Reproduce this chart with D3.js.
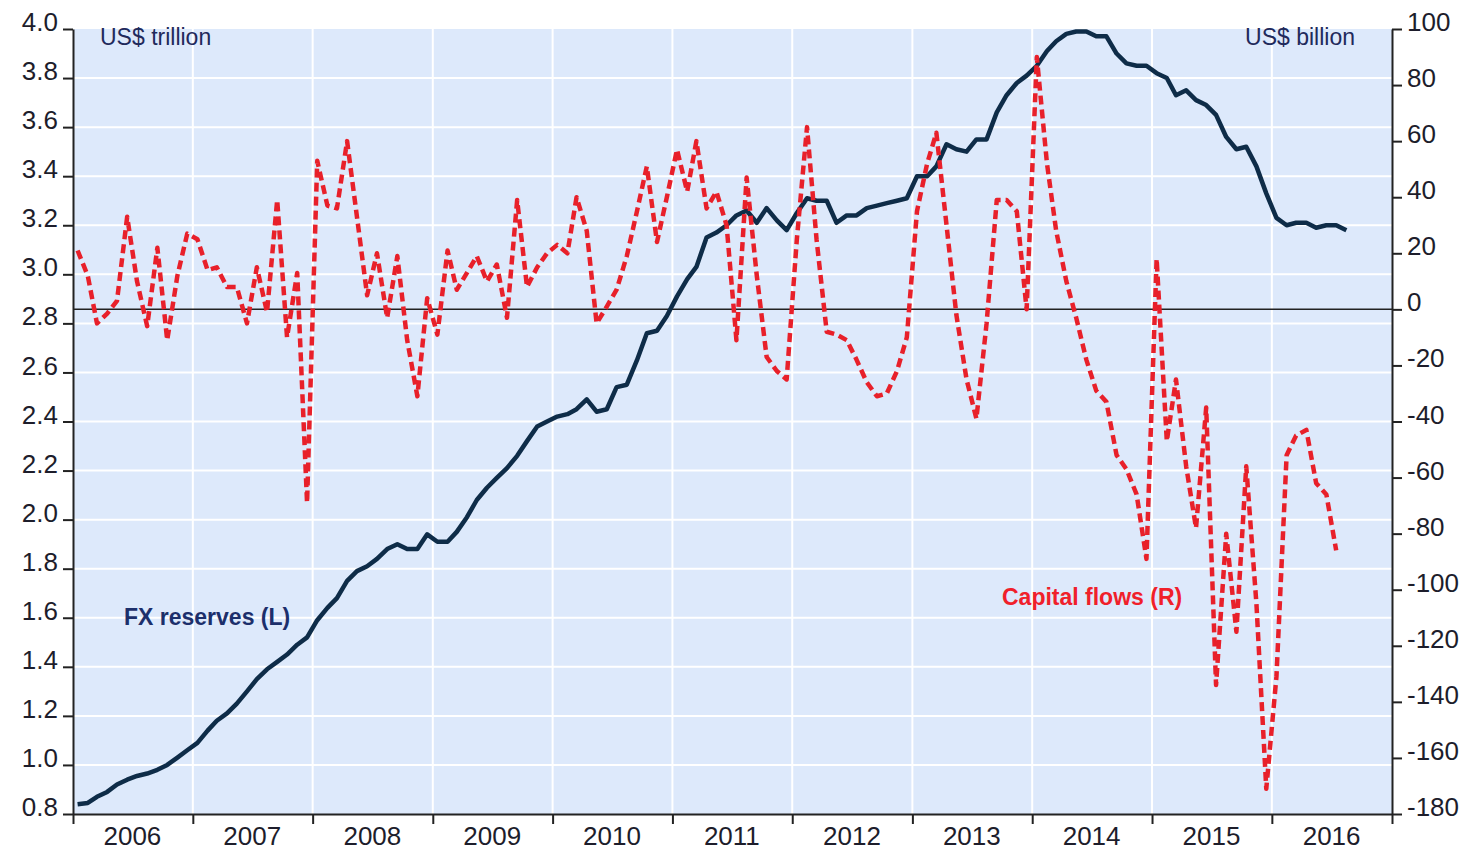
<!DOCTYPE html>
<html>
<head>
<meta charset="utf-8">
<script src="https://cdn.jsdelivr.net/npm/d3@7"></script>
<style>
  body { margin: 0; background: #fff; }
  text { font-family: "Liberation Sans", Arial, sans-serif; }
</style>
</head>
<body>
<svg id="chart"></svg>
<script>
// monthly series, Jan 2006 onwards
const startYear = 2006;
const yearLabels = ["2006", "2007", "2008", "2009", "2010", "2011", "2012", "2013", "2014", "2015", "2016"];

// FX reserves, US$ trillion (left axis)
const fxReserves = [
  0.84, 0.845, 0.87, 0.89, 0.92, 0.94, 0.955, 0.965, 0.98, 1.00, 1.03, 1.06,
  1.09, 1.14, 1.18, 1.21, 1.25, 1.30, 1.35, 1.39, 1.42, 1.45, 1.49, 1.52,
  1.59, 1.64, 1.68, 1.75, 1.79, 1.81, 1.84, 1.88, 1.90, 1.88, 1.88, 1.94,
  1.91, 1.91, 1.95, 2.01, 2.08, 2.13, 2.17, 2.21, 2.26, 2.32, 2.38, 2.40,
  2.42, 2.43, 2.45, 2.49, 2.44, 2.45, 2.54, 2.55, 2.65, 2.76, 2.77, 2.83,
  2.91, 2.98, 3.03, 3.15, 3.17, 3.20, 3.24, 3.26, 3.21, 3.27, 3.22, 3.18,
  3.25, 3.31, 3.30, 3.30, 3.21, 3.24, 3.24, 3.27, 3.28, 3.29, 3.30, 3.31,
  3.40, 3.40, 3.44, 3.53, 3.51, 3.50, 3.55, 3.55, 3.66, 3.73, 3.78, 3.81,
  3.85, 3.91, 3.95, 3.98, 3.99, 3.99, 3.97, 3.97, 3.90, 3.86, 3.85, 3.85,
  3.82, 3.80, 3.73, 3.75, 3.71, 3.69, 3.65, 3.56, 3.51, 3.52, 3.44, 3.33,
  3.23, 3.20, 3.21, 3.21, 3.19, 3.20, 3.20, 3.18
];

// Capital flows, US$ billion (right axis)
const capitalFlows = [
  21, 12, -5, -1.5, 3, 33, 10, -6, 22, -11, 12, 27,
  25, 14, 15, 8, 8, -5, 15, -1, 39, -10, 13, -69,
  53, 37, 36, 60, 33, 5, 20, -3, 19, -11, -31, 4,
  -9, 21, 7, 13, 19, 10, 16, -3, 39, 8, 15, 20,
  23, 20, 40, 28, -5, 1, 7, 19, 35, 51, 24, 40,
  57, 42, 60, 36, 42, 30, -11, 47, 12, -17, -22, -25,
  25, 65, 25, -8, -9, -11, -18, -26, -31, -30, -22, -10,
  35, 52, 63, 30, -2, -25, -39, -5, 39, 39, 35, 0,
  90, 52, 28, 10, -3, -18, -29, -33, -52, -57, -66, -89,
  18, -47, -25, -56, -78, -35, -134, -80, -115, -56, -105, -171,
  -131, -52, -45, -43, -62, -66, -86
];

const leftTicks = d3.range(0.8, 4.01, 0.2);
const rightTicks = d3.range(-180, 101, 20);

const width = 1481;
const height = 852;
const plotLeft = 73;
const plotRight = 1392;
const plotTop = 29;
const plotBottom = 814;

const svg = d3.select("#chart").attr("width", width).attr("height", height);

const x = d3
  .scaleTime()
  .domain([new Date(startYear, 0, 1), new Date(startYear + yearLabels.length, 0, 1)])
  .range([plotLeft, plotRight]);
const yLeft = d3.scaleLinear().domain([0.8, 4.0]).range([plotBottom, plotTop]);
const yRight = d3.scaleLinear().domain([-180, 100]).range([plotBottom, plotTop]);

const monthDate = (i) => new Date(startYear, i, 15);

// plot background
svg
  .append("rect")
  .attr("x", plotLeft)
  .attr("y", plotTop)
  .attr("width", plotRight - plotLeft)
  .attr("height", plotBottom - plotTop)
  .attr("fill", "#dde9fb");

// grid
const yearStarts = yearLabels.map((d, i) => new Date(startYear + i, 0, 1)).slice(1);
svg
  .append("g")
  .selectAll("line")
  .data(yearStarts)
  .enter()
  .append("line")
  .attr("x1", (d) => x(d))
  .attr("x2", (d) => x(d))
  .attr("y1", plotTop)
  .attr("y2", plotBottom)
  .attr("stroke", "#fff")
  .attr("stroke-width", 2);
svg
  .append("g")
  .selectAll("line")
  .data(leftTicks.slice(1, -1))
  .enter()
  .append("line")
  .attr("x1", plotLeft)
  .attr("x2", plotRight)
  .attr("y1", (d) => yLeft(d))
  .attr("y2", (d) => yLeft(d))
  .attr("stroke", "#fff")
  .attr("stroke-width", 2);

// zero line for capital flows
svg
  .append("line")
  .attr("x1", plotLeft)
  .attr("x2", plotRight)
  .attr("y1", yRight(0))
  .attr("y2", yRight(0))
  .attr("stroke", "#222")
  .attr("stroke-width", 1.5);

// series
const fxLine = d3
  .line()
  .x((d, i) => x(monthDate(i)))
  .y((d) => yLeft(d));
svg
  .append("path")
  .datum(fxReserves)
  .attr("d", fxLine)
  .attr("fill", "none")
  .attr("stroke", "#0e2c48")
  .attr("stroke-width", 4.5)
  .attr("stroke-linejoin", "round");

const flowLine = d3
  .line()
  .x((d, i) => x(monthDate(i)))
  .y((d) => yRight(d));
svg
  .append("path")
  .datum(capitalFlows)
  .attr("d", flowLine)
  .attr("fill", "none")
  .attr("stroke", "#e8202a")
  .attr("stroke-width", 4.5)
  .attr("stroke-dasharray", "9,5")
  .attr("stroke-linejoin", "round");

// axes
const styleAxis = (g) => {
  g.select(".domain").attr("stroke", "#222").attr("stroke-width", 2);
  g.selectAll(".tick line").attr("stroke", "#222").attr("stroke-width", 2);
  g.selectAll("text").attr("fill", "#1d1d2b").style("font-size", "26px");
};

svg
  .append("g")
  .attr("transform", `translate(${plotLeft},0)`)
  .call(
    d3.axisLeft(yLeft).tickValues(leftTicks).tickFormat(d3.format(".1f")).tickSize(10).tickSizeOuter(0).tickPadding(5)
  )
  .call(styleAxis)
  .call((g) => g.selectAll("text").attr("dy", "0.06em"));

svg
  .append("g")
  .attr("transform", `translate(${plotRight},0)`)
  .call(
    d3.axisRight(yRight).tickValues(rightTicks).tickFormat((d) => String(d)).tickSize(10).tickSizeOuter(0).tickPadding(5)
  )
  .call(styleAxis)
  .call((g) => g.selectAll("text").attr("dy", "0.06em"));

svg
  .append("g")
  .attr("transform", `translate(0,${plotBottom})`)
  .call(
    d3.axisBottom(x).tickValues(yearStarts.concat([x.domain()[0], x.domain()[1]])).tickFormat("").tickSize(10).tickSizeOuter(0)
  )
  .call(styleAxis);

svg
  .append("g")
  .selectAll("text")
  .data(yearLabels)
  .enter()
  .append("text")
  .attr("x", (d) => x(new Date(+d, 6, 1)))
  .attr("y", 845)
  .attr("text-anchor", "middle")
  .attr("fill", "#1d1d2b")
  .style("font-size", "26px")
  .text((d) => d);

// labels
svg
  .append("text")
  .attr("x", 100)
  .attr("y", 45)
  .attr("fill", "#1f2a5c")
  .style("font-size", "23px")
  .text("US$ trillion");
svg
  .append("text")
  .attr("x", 1355)
  .attr("y", 45)
  .attr("text-anchor", "end")
  .attr("fill", "#1f2a5c")
  .style("font-size", "23px")
  .text("US$ billion");
svg
  .append("text")
  .attr("x", 124)
  .attr("y", 625)
  .attr("fill", "#1c2f6b")
  .style("font-size", "23px")
  .style("font-weight", "bold")
  .text("FX reserves (L)");
svg
  .append("text")
  .attr("x", 1002)
  .attr("y", 605)
  .attr("fill", "#f0202a")
  .style("font-size", "23px")
  .style("font-weight", "bold")
  .text("Capital flows (R)");
</script>
</body>
</html>
